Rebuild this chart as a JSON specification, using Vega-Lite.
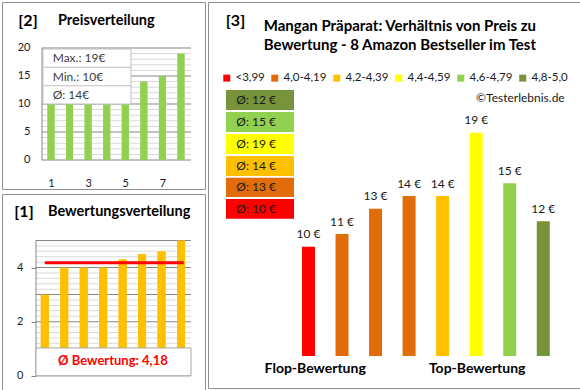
{
  "$schema": "https://vega.github.io/schema/vega-lite/v6.json",
  "padding": {"left": 1, "top": 1, "right": 0, "bottom": 0},
  "background": "white",
  "config": {
    "font": "Lato",
    "view": {"stroke": "#8E8E8E", "strokeWidth": 1},
    "text": {"color": "#1a1a1a"},
    "scale": {"continuousPadding": 0},
    "axis": {"labelOverlap": false}
  },
  "datasets": {
    "prices": [
      {"n": 1, "price": 10}, {"n": 2, "price": 11}, {"n": 3, "price": 12}, {"n": 4, "price": 13},
      {"n": 5, "price": 14}, {"n": 6, "price": 14}, {"n": 7, "price": 15}, {"n": 8, "price": 19}
    ],
    "ratings": [
      {"n": 1, "rating": 3.0}, {"n": 2, "rating": 4.0}, {"n": 3, "rating": 4.0}, {"n": 4, "rating": 4.0},
      {"n": 5, "rating": 4.3}, {"n": 6, "rating": 4.5}, {"n": 7, "rating": 4.6}, {"n": 8, "rating": 5.0}
    ],
    "products": [
      {"n": 1, "rating": 3.0, "price": 10, "cat": "<3,99", "label": "10 €"},
      {"n": 2, "rating": 4.0, "price": 11, "cat": "4,0-4,19", "label": "11 €"},
      {"n": 3, "rating": 4.0, "price": 13, "cat": "4,0-4,19", "label": "13 €"},
      {"n": 4, "rating": 4.0, "price": 14, "cat": "4,0-4,19", "label": "14 €"},
      {"n": 5, "rating": 4.3, "price": 14, "cat": "4,2-4,39", "label": "14 €"},
      {"n": 6, "rating": 4.5, "price": 19, "cat": "4,4-4,59", "label": "19 €"},
      {"n": 7, "rating": 4.6, "price": 15, "cat": "4,6-4,79", "label": "15 €"},
      {"n": 8, "rating": 5.0, "price": 12, "cat": "4,8-5,0", "label": "12 €"}
    ],
    "boxes": [
      {"cat": "4,8-5,0", "avg": 12, "label": "Ø: 12 €"},
      {"cat": "4,6-4,79", "avg": 15, "label": "Ø: 15 €"},
      {"cat": "4,4-4,59", "avg": 19, "label": "Ø: 19 €"},
      {"cat": "4,2-4,39", "avg": 14, "label": "Ø: 14 €"},
      {"cat": "4,0-4,19", "avg": 13, "label": "Ø: 13 €"},
      {"cat": "<3,99", "avg": 10, "label": "Ø: 10 €"}
    ],
    "grid20minor": [
      {"g": 1}, {"g": 2}, {"g": 3}, {"g": 4}, {"g": 6}, {"g": 7}, {"g": 8}, {"g": 9},
      {"g": 11}, {"g": 12}, {"g": 13}, {"g": 14}, {"g": 16}, {"g": 17}, {"g": 18}, {"g": 19}
    ],
    "grid20major": [{"g": 0}, {"g": 5}, {"g": 10}, {"g": 15}, {"g": 20}],
    "grid5minor": [
      {"g": 0.2}, {"g": 0.4}, {"g": 0.6}, {"g": 0.8}, {"g": 1.2}, {"g": 1.4}, {"g": 1.6}, {"g": 1.8},
      {"g": 2.2}, {"g": 2.4}, {"g": 2.6}, {"g": 2.8}, {"g": 3.2}, {"g": 3.4}, {"g": 3.6}, {"g": 3.8},
      {"g": 4.2}, {"g": 4.4}, {"g": 4.6}, {"g": 4.8}
    ],
    "grid5major": [{"g": 0}, {"g": 1}, {"g": 2}, {"g": 3}, {"g": 4}, {"g": 5}],
    "one": [{"k": 1}]
  },
  "spacing": 1,
  "hconcat": [
    {
      "spacing": 3,
      "vconcat": [
        {
          "width": 203,
          "height": 187,
          "layer": [
            {
              "data": {"name": "prices"},
              "mark": {"type": "bar", "color": "#92D050", "width": 7},
              "encoding": {
                "x": {"field": "n", "type": "quantitative", "scale": {"domain": [-1.639, 9.293], "nice": false, "zero": false, "padding": 0}, "axis": {"title": null, "values": [1, 2, 3, 4, 5, 6, 7, 8], "format": "d", "offset": -6, "domain": false, "ticks": false, "grid": false, "labelOverlap": false, "labelPadding": 0, "labelBaseline": "middle", "labelFontSize": 11, "labelColor": "#1a1a2a", "labelFont": "Lato"}},
                "y": {"field": "price", "type": "quantitative", "scale": {"domain": [-5.179, 28.214], "nice": false, "zero": false, "padding": 0}, "axis": {"title": null, "values": [0, 5, 10, 15, 20], "offset": -40, "domain": false, "ticks": false, "grid": false, "labelOverlap": false, "labelPadding": 12, "labelFontSize": 11, "labelColor": "#1a1a2a", "labelFont": "Lato"}},
                "y2": {"datum": 0}
              }
            },
            {
              "data": {"name": "grid20minor"},
              "mark": {"type": "bar", "color": "#D9D9D9", "height": 1},
              "encoding": {
                "x": {"datum": 0.515, "type": "quantitative"},
                "x2": {"datum": 8.54},
                "y": {"field": "g", "type": "quantitative"}
              }
            },
            {
              "data": {"name": "grid20major"},
              "mark": {"type": "bar", "color": "#868686", "height": 1},
              "encoding": {
                "x": {"datum": 0.515, "type": "quantitative"},
                "x2": {"datum": 8.54},
                "y": {"field": "g", "type": "quantitative"}
              }
            },
            {
              "data": {"name": "one"},
              "mark": {"type": "bar", "color": "#868686", "width": 1},
              "encoding": {
                "x": {"datum": 0.515, "type": "quantitative"},
                "y": {"datum": 0, "type": "quantitative"},
                "y2": {"datum": 20}
              }
            },
            {
              "data": {"name": "prices"},
              "mark": {"type": "bar", "color": "#92D050", "width": 7},
              "encoding": {
                "x": {"field": "n", "type": "quantitative"},
                "y": {"field": "price", "type": "quantitative"},
                "y2": {"datum": 0}
              }
            },
            {
              "data": {"name": "one"},
              "mark": {"type": "rect", "fill": "white", "stroke": "#BFBFBF", "strokeWidth": 1},
              "encoding": {
                "x": {"datum": 0.569, "type": "quantitative"},
                "x2": {"datum": 5.308},
                "y": {"datum": 10.0, "type": "quantitative"},
                "y2": {"datum": 19.82}
              }
            },
            {
              "data": {"name": "one"},
              "mark": {"type": "bar", "color": "#BFBFBF", "height": 1},
              "encoding": {
                "x": {"datum": 0.569, "type": "quantitative"},
                "x2": {"datum": 5.308},
                "y": {"datum": 16.55, "type": "quantitative"}
              }
            },
            {
              "data": {"name": "one"},
              "mark": {"type": "bar", "color": "#BFBFBF", "height": 1},
              "encoding": {
                "x": {"datum": 0.569, "type": "quantitative"},
                "x2": {"datum": 5.308},
                "y": {"datum": 13.27, "type": "quantitative"}
              }
            },
            {
              "data": {"name": "one"},
              "mark": {"type": "text", "align": "left", "baseline": "middle", "fontSize": 12, "lineHeight": 18.2, "lineBreak": "|", "color": "#404040"},
              "encoding": {
                "x": {"datum": 1.09, "type": "quantitative"},
                "y": {"datum": 18.13, "type": "quantitative"},
                "text": {"value": "Max.: 19€|Min.: 10€|Ø: 14€"}
              }
            },
            {
              "data": {"name": "one"},
              "mark": {"type": "text", "align": "center", "baseline": "middle", "fontSize": 16, "fontWeight": "bold", "color": "#000000"},
              "encoding": {
                "x": {"datum": -0.2385, "type": "quantitative"},
                "y": {"datum": 24.91, "type": "quantitative"},
                "text": {"value": "[2]"}
              }
            },
            {
              "data": {"name": "one"},
              "mark": {"type": "text", "align": "left", "baseline": "middle", "fontSize": 14.5, "fontWeight": "bold", "color": "#000000"},
              "encoding": {
                "x": {"datum": 1.377, "type": "quantitative"},
                "y": {"datum": 24.91, "type": "quantitative"},
                "text": {"value": "Preisverteilung"}
              }
            }
          ]
        },
        {
          "width": 203,
          "height": 196,
          "layer": [
            {
              "data": {"name": "ratings"},
              "mark": {"type": "bar", "color": "#FFC000", "width": 8},
              "encoding": {
                "x": {"field": "n", "type": "quantitative", "scale": {"domain": [-1.199, 9.233], "nice": false, "zero": false, "padding": 0}, "axis": null},
                "y": {"field": "rating", "type": "quantitative", "scale": {"domain": [-0.525, 6.718], "nice": false, "zero": false, "padding": 0}, "axis": {"title": null, "values": [0, 1, 2, 3, 4, 5], "offset": -34, "domain": false, "ticks": true, "tickSize": 5, "tickColor": "#868686", "grid": false, "labelOverlap": false, "labelPadding": 8, "labelFontSize": 11, "labelColor": "#1a1a2a", "labelFont": "Lato"}},
                "y2": {"datum": 0}
              }
            },
            {
              "data": {"name": "grid5minor"},
              "mark": {"type": "bar", "color": "#D9D9D9", "height": 1},
              "encoding": {
                "x": {"datum": 0.548, "type": "quantitative"},
                "x2": {"datum": 8.513},
                "y": {"field": "g", "type": "quantitative"}
              }
            },
            {
              "data": {"name": "grid5major"},
              "mark": {"type": "bar", "color": "#868686", "height": 1},
              "encoding": {
                "x": {"datum": 0.548, "type": "quantitative"},
                "x2": {"datum": 8.513},
                "y": {"field": "g", "type": "quantitative"}
              }
            },
            {
              "data": {"name": "one"},
              "mark": {"type": "bar", "color": "#868686", "width": 1},
              "encoding": {
                "x": {"datum": 0.548, "type": "quantitative"},
                "y": {"datum": 0, "type": "quantitative"},
                "y2": {"datum": 5}
              }
            },
            {
              "data": {"name": "ratings"},
              "mark": {"type": "bar", "color": "#FFC000", "width": 8},
              "encoding": {
                "x": {"field": "n", "type": "quantitative"},
                "y": {"field": "rating", "type": "quantitative"},
                "y2": {"datum": 0}
              }
            },
            {
              "data": {"name": "ratings"},
              "transform": [{"aggregate": [{"op": "mean", "field": "rating", "as": "avg"}], "groupby": []}],
              "mark": {"type": "rule", "color": "#FF0000", "strokeWidth": 3},
              "encoding": {
                "x": {"datum": 1.0, "type": "quantitative"},
                "x2": {"datum": 8.14},
                "y": {"field": "avg", "type": "quantitative"}
              }
            },
            {
              "data": {"name": "one"},
              "mark": {"type": "rect", "fill": "white", "stroke": "#A6A6A6", "strokeWidth": 1},
              "encoding": {
                "x": {"datum": 0.548, "type": "quantitative"},
                "x2": {"datum": 8.514},
                "y": {"datum": 0, "type": "quantitative"},
                "y2": {"datum": 1.03}
              }
            },
            {
              "data": {"name": "one"},
              "mark": {"type": "text", "align": "center", "baseline": "middle", "fontSize": 13, "fontWeight": "bold", "color": "#FF0000"},
              "encoding": {
                "x": {"datum": 4.5, "type": "quantitative"},
                "y": {"datum": 0.547, "type": "quantitative"},
                "text": {"value": "Ø Bewertung: 4,18"}
              }
            },
            {
              "data": {"name": "one"},
              "mark": {"type": "text", "align": "center", "baseline": "middle", "fontSize": 16, "fontWeight": "bold", "color": "#000000"},
              "encoding": {
                "x": {"datum": -0.069, "type": "quantitative"},
                "y": {"datum": 6.053, "type": "quantitative"},
                "text": {"value": "[1]"}
              }
            },
            {
              "data": {"name": "one"},
              "mark": {"type": "text", "align": "left", "baseline": "middle", "fontSize": 14.5, "fontWeight": "bold", "color": "#000000"},
              "encoding": {
                "x": {"datum": 1.164, "type": "quantitative"},
                "y": {"datum": 6.053, "type": "quantitative"},
                "text": {"value": "Bewertungsverteilung"}
              }
            }
          ]
        }
      ]
    },
    {
      "width": 373,
      "height": 386,
      "layer": [
        {
          "data": {"name": "products"},
          "mark": {"type": "bar", "width": 13},
          "encoding": {
            "x": {"field": "n", "type": "quantitative", "scale": {"domain": [-1.996, 9.125], "nice": false, "zero": false, "padding": 0}, "axis": null},
            "y": {"field": "price", "type": "quantitative", "scale": {"domain": [-1.155, 29.318], "nice": false, "zero": false, "padding": 0}, "axis": null},
            "y2": {"datum": 1.371},
            "color": {
              "field": "cat", "type": "nominal",
              "scale": {"domain": ["<3,99", "4,0-4,19", "4,2-4,39", "4,4-4,59", "4,6-4,79", "4,8-5,0"], "range": ["#FF0000", "#E36C0A", "#FFC000", "#FFFF00", "#92D050", "#77933C"]},
              "legend": {"orient": "none", "legendX": 219, "legendY": 70, "direction": "horizontal", "title": null, "symbolType": "square", "symbolSize": 49, "symbolStrokeWidth": 0, "labelFontSize": 11.5, "labelFont": "Lato", "labelColor": "#1a1a1a", "columnPadding": 4, "labelOffset": 3, "padding": 0}
            }
          }
        },
        {
          "data": {"name": "products"},
          "mark": {"type": "text", "align": "center", "baseline": "alphabetic", "dy": -8.5, "fontSize": 12, "color": "#1a1a1a"},
          "encoding": {
            "x": {"field": "n", "type": "quantitative"},
            "y": {"field": "price", "type": "quantitative"},
            "text": {"field": "label"}
          }
        },
        {
          "data": {"name": "boxes"},
          "transform": [{"filter": "datum.cat === '4,8-5,0'"}],
          "mark": {"type": "rect"},
          "encoding": {"x": {"datum": -1.46, "type": "quantitative"}, "x2": {"datum": 0.568}, "y": {"datum": 22.371, "type": "quantitative"}, "y2": {"datum": 20.792}, "color": {"field": "cat", "type": "nominal"}}
        },
        {
          "data": {"name": "boxes"},
          "transform": [{"filter": "datum.cat === '4,6-4,79'"}],
          "mark": {"type": "rect"},
          "encoding": {"x": {"datum": -1.46, "type": "quantitative"}, "x2": {"datum": 0.568}, "y": {"datum": 20.634, "type": "quantitative"}, "y2": {"datum": 19.055}, "color": {"field": "cat", "type": "nominal"}}
        },
        {
          "data": {"name": "boxes"},
          "transform": [{"filter": "datum.cat === '4,4-4,59'"}],
          "mark": {"type": "rect"},
          "encoding": {"x": {"datum": -1.46, "type": "quantitative"}, "x2": {"datum": 0.568}, "y": {"datum": 18.897, "type": "quantitative"}, "y2": {"datum": 17.318}, "color": {"field": "cat", "type": "nominal"}}
        },
        {
          "data": {"name": "boxes"},
          "transform": [{"filter": "datum.cat === '4,2-4,39'"}],
          "mark": {"type": "rect"},
          "encoding": {"x": {"datum": -1.46, "type": "quantitative"}, "x2": {"datum": 0.568}, "y": {"datum": 17.16, "type": "quantitative"}, "y2": {"datum": 15.581}, "color": {"field": "cat", "type": "nominal"}}
        },
        {
          "data": {"name": "boxes"},
          "transform": [{"filter": "datum.cat === '4,0-4,19'"}],
          "mark": {"type": "rect"},
          "encoding": {"x": {"datum": -1.46, "type": "quantitative"}, "x2": {"datum": 0.568}, "y": {"datum": 15.447, "type": "quantitative"}, "y2": {"datum": 13.923}, "color": {"field": "cat", "type": "nominal"}}
        },
        {
          "data": {"name": "boxes"},
          "transform": [{"filter": "datum.cat === '<3,99'"}],
          "mark": {"type": "rect"},
          "encoding": {"x": {"datum": -1.46, "type": "quantitative"}, "x2": {"datum": 0.568}, "y": {"datum": 13.765, "type": "quantitative"}, "y2": {"datum": 12.21}, "color": {"field": "cat", "type": "nominal"}}
        },
        {
          "data": {"name": "boxes"},
          "transform": [{"filter": "datum.cat === '4,8-5,0'"}],
          "mark": {"type": "text", "align": "left", "baseline": "middle", "fontSize": 12, "color": "#1a1a1a"},
          "encoding": {"x": {"datum": -1.153, "type": "quantitative"}, "y": {"datum": 21.58, "type": "quantitative"}, "text": {"field": "label"}}
        },
        {
          "data": {"name": "boxes"},
          "transform": [{"filter": "datum.cat === '4,6-4,79'"}],
          "mark": {"type": "text", "align": "left", "baseline": "middle", "fontSize": 12, "color": "#1a1a1a"},
          "encoding": {"x": {"datum": -1.153, "type": "quantitative"}, "y": {"datum": 19.84, "type": "quantitative"}, "text": {"field": "label"}}
        },
        {
          "data": {"name": "boxes"},
          "transform": [{"filter": "datum.cat === '4,4-4,59'"}],
          "mark": {"type": "text", "align": "left", "baseline": "middle", "fontSize": 12, "color": "#1a1a1a"},
          "encoding": {"x": {"datum": -1.153, "type": "quantitative"}, "y": {"datum": 18.11, "type": "quantitative"}, "text": {"field": "label"}}
        },
        {
          "data": {"name": "boxes"},
          "transform": [{"filter": "datum.cat === '4,2-4,39'"}],
          "mark": {"type": "text", "align": "left", "baseline": "middle", "fontSize": 12, "color": "#1a1a1a"},
          "encoding": {"x": {"datum": -1.153, "type": "quantitative"}, "y": {"datum": 16.37, "type": "quantitative"}, "text": {"field": "label"}}
        },
        {
          "data": {"name": "boxes"},
          "transform": [{"filter": "datum.cat === '4,0-4,19'"}],
          "mark": {"type": "text", "align": "left", "baseline": "middle", "fontSize": 12, "color": "#1a1a1a"},
          "encoding": {"x": {"datum": -1.153, "type": "quantitative"}, "y": {"datum": 14.68, "type": "quantitative"}, "text": {"field": "label"}}
        },
        {
          "data": {"name": "boxes"},
          "transform": [{"filter": "datum.cat === '<3,99'"}],
          "mark": {"type": "text", "align": "left", "baseline": "middle", "fontSize": 12, "color": "#1a1a1a"},
          "encoding": {"x": {"datum": -1.153, "type": "quantitative"}, "y": {"datum": 12.99, "type": "quantitative"}, "text": {"field": "label"}}
        },
        {
          "data": {"name": "one"},
          "mark": {"type": "text", "align": "center", "baseline": "middle", "fontSize": 16, "fontWeight": "bold", "color": "#000000"},
          "encoding": {
            "x": {"datum": -1.176, "type": "quantitative"},
            "y": {"datum": 27.78, "type": "quantitative"},
            "text": {"value": "[3]"}
          }
        },
        {
          "data": {"name": "one"},
          "mark": {"type": "text", "align": "center", "baseline": "middle", "fontSize": 15, "fontWeight": "bold", "lineHeight": 18.7, "lineBreak": "|", "color": "#000000"},
          "encoding": {
            "x": {"datum": 3.725, "type": "quantitative"},
            "y": {"datum": 27.4, "type": "quantitative"},
            "text": {"value": "Mangan Präparat: Verhältnis von Preis zu|Bewertung - 8 Amazon Bestseller im Test"}
          }
        },
        {
          "data": {"name": "one"},
          "mark": {"type": "text", "align": "right", "baseline": "middle", "fontSize": 12, "color": "#1a1a1a"},
          "encoding": {
            "x": {"datum": 8.639, "type": "quantitative"},
            "y": {"datum": 21.74, "type": "quantitative"},
            "text": {"value": "©Testerlebnis.de"}
          }
        },
        {
          "data": {"name": "one"},
          "mark": {"type": "text", "align": "center", "baseline": "middle", "fontSize": 14, "fontWeight": "bold", "color": "#000000"},
          "encoding": {
            "x": {"datum": 1.2, "type": "quantitative"},
            "y": {"datum": 0.345, "type": "quantitative"},
            "text": {"value": "Flop-Bewertung"}
          }
        },
        {
          "data": {"name": "one"},
          "mark": {"type": "text", "align": "center", "baseline": "middle", "fontSize": 14, "fontWeight": "bold", "color": "#000000"},
          "encoding": {
            "x": {"datum": 6.03, "type": "quantitative"},
            "y": {"datum": 0.345, "type": "quantitative"},
            "text": {"value": "Top-Bewertung"}
          }
        }
      ]
    }
  ]
}
